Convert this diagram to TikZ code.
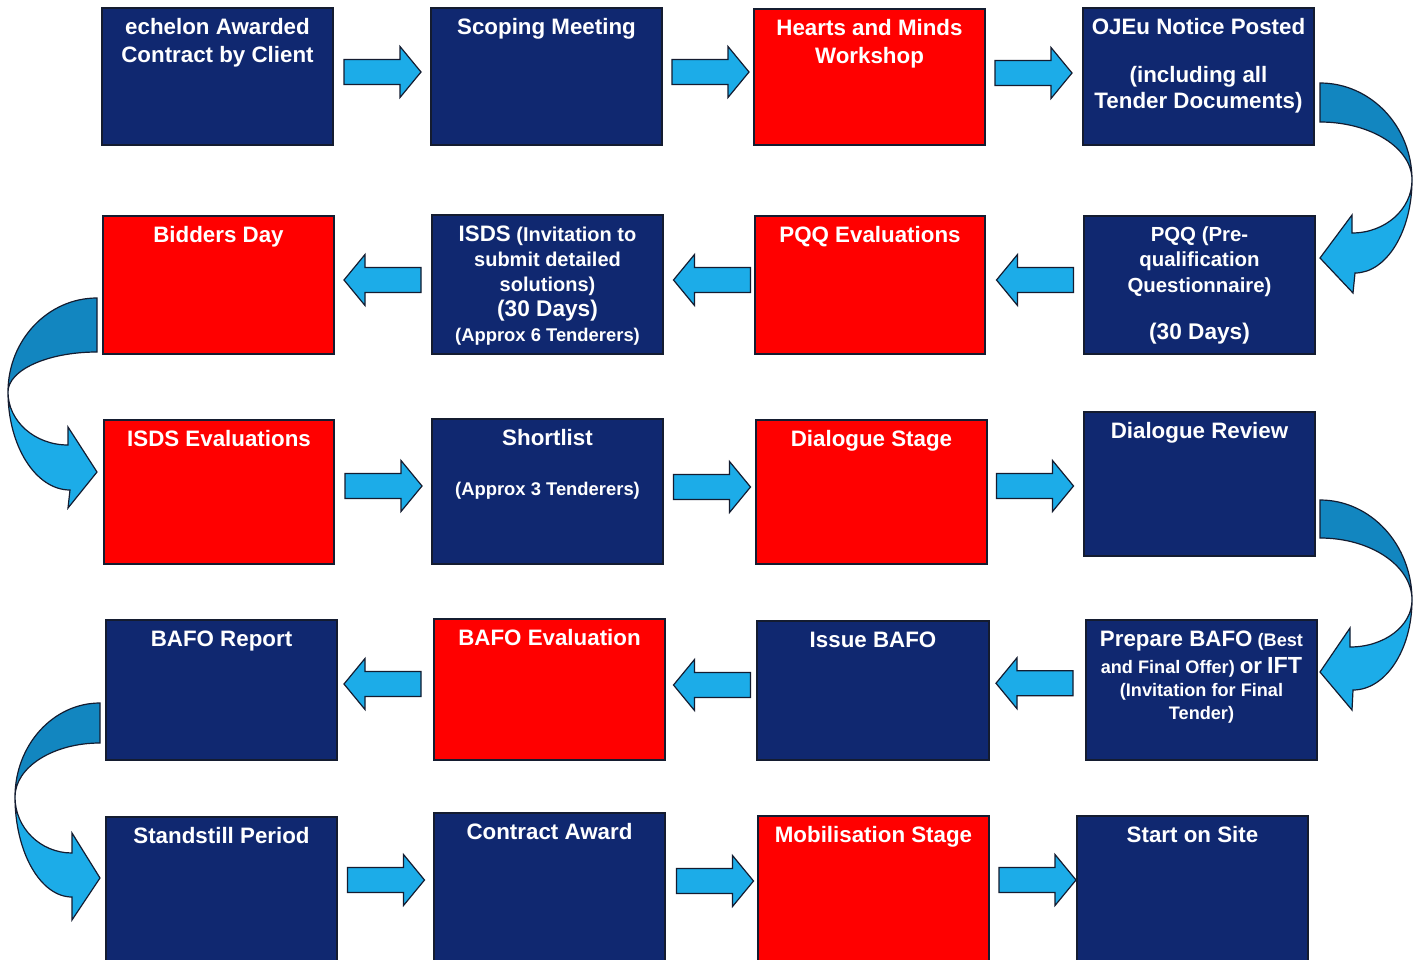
\documentclass[tikz,border=0pt]{standalone}
\usepackage{fontspec}
\setmainfont{Liberation Sans}
\usetikzlibrary{fit,calc}
\definecolor{navy}{RGB}{16,40,112}
\definecolor{boxred}{RGB}{255,0,0}
\definecolor{arrlight}{RGB}{28,172,232}
\definecolor{arrdark}{RGB}{18,134,192}
\definecolor{edge}{RGB}{20,28,48}
\newcommand\tsz[2]{{\fontsize{#1}{#1}\selectfont #2}}

\begin{document}
\begin{tikzpicture}[x=0.75pt,y=-0.75pt,
  stage/.style={inner sep=0pt, draw=edge, line width=0.8pt},
  navystage/.style={stage, fill=navy},
  redstage/.style={stage, fill=boxred},
  caption/.style={text=white, font=\bfseries\fontsize{16.75}{20.5}\selectfont,
    align=center, anchor=north, inner sep=0pt},
  blockarrow/.style={fill=arrlight, draw=edge, line width=0.9pt, line join=miter},
  curveback/.style={fill=arrdark, draw=edge, line width=0.9pt},
  curvefront/.style={fill=arrlight, draw=edge, line width=0.9pt, line join=miter},
  pics/rarr/.style={code={\draw[blockarrow] (-38.5,-12.5) -- (17.5,-12.5) -- (17.5,-25.5)
      -- (38.5,0) -- (17.5,25.5) -- (17.5,12.5) -- (-38.5,12.5) -- cycle;}},
  pics/larr/.style={code={\draw[blockarrow] (38.5,-12.5) -- (-17.5,-12.5) -- (-17.5,-25.5)
      -- (-38.5,0) -- (-17.5,25.5) -- (-17.5,12.5) -- (38.5,12.5) -- cycle;}},
]
\useasboundingbox (0,0) rectangle (1424,960);
\fill[white] (0,0) rectangle (1424,960);

% U-turn arrows between the rows (back half darker, front half lighter)
\draw[curveback] (1320,83) .. controls (1370.8,83) and (1412,126.4) .. (1412,180)
  .. controls (1412,148) and (1370.8,122) .. (1320,122) -- cycle;
\draw[curvefront] (1412,180) .. controls (1412,231.3) and (1386.5,273) .. (1355,273)
  -- (1353,293) -- (1320,258) -- (1352,215) -- (1352,233)
  .. controls (1385.1,233) and (1412,209.3) .. (1412,180) -- cycle;

\draw[curveback] (97,298) .. controls (47.9,298) and (8,340.1) .. (8,392)
  .. controls (8,369.9) and (47.9,352) .. (97,352) -- cycle;
\draw[curvefront] (8,392) .. controls (8,446.1) and (35.8,490) .. (70,490)
  -- (68,508) -- (97,472) -- (68,427) -- (68,445)
  .. controls (34.9,445) and (8,421.3) .. (8,392) -- cycle;

\draw[curveback] (1320,500) .. controls (1370.8,500) and (1412,544.8) .. (1412,600)
  .. controls (1412,565.8) and (1370.8,538) .. (1320,538) -- cycle;
\draw[curvefront] (1412,600) .. controls (1412,649.7) and (1385.6,690) .. (1353,690)
  -- (1352,710) -- (1320,672) -- (1350,628) -- (1350,647)
  .. controls (1384.2,647) and (1412,626) .. (1412,600) -- cycle;

\draw[curveback] (100,703) .. controls (53.1,703) and (15,745.1) .. (15,797)
  .. controls (15,767.2) and (53.1,743) .. (100,743) -- cycle;
\draw[curvefront] (15,797) .. controls (15,852.2) and (40.5,897) .. (72,897)
  -- (72,920) -- (100,878) -- (72,833) -- (72,853)
  .. controls (40.5,853) and (15,827.9) .. (15,797) -- cycle;

% Row 1
\node[navystage, fit={(102,8) (333,145)}] (b11) {};
\node[navystage, fit={(431,8) (662,145)}] (b12) {};
\node[redstage,  fit={(754,9) (985,145)}] (b13) {};
\node[navystage, fit={(1083,8) (1314,145)}] (b14) {};
% Row 2
\node[redstage,  fit={(103,216) (334,354)}] (b21) {};
\node[navystage, fit={(432,215) (663,354)}] (b22) {};
\node[redstage,  fit={(755,216) (985,354)}] (b23) {};
\node[navystage, fit={(1084,216) (1315,354)}] (b24) {};
% Row 3
\node[redstage,  fit={(104,420) (334,564)}] (b31) {};
\node[navystage, fit={(432,419) (663,564)}] (b32) {};
\node[redstage,  fit={(756,420) (987,564)}] (b33) {};
\node[navystage, fit={(1084,412) (1315,556)}] (b34) {};
% Row 4
\node[navystage, fit={(106,620) (337,760)}] (b41) {};
\node[redstage,  fit={(434,619) (665,760)}] (b42) {};
\node[navystage, fit={(757,621) (989,760)}] (b43) {};
\node[navystage, fit={(1086,620) (1317,760)}] (b44) {};
% Row 5
\node[navystage, fit={(106,817) (337,966)}] (b51) {};
\node[navystage, fit={(434,813) (665,966)}] (b52) {};
\node[redstage,  fit={(758,816) (989,966)}] (b53) {};
\node[navystage, fit={(1077,816) (1308,966)}] (b54) {};

% Captions
\node[caption] (t11) at ($(b11.north)+(0,11)$) {echelon Awarded\\Contract by Client};
\node[caption] (t12) at ($(b12.north)+(0,11)$) {Scoping Meeting};
\node[caption] (t13) at ($(b13.north)+(0,11)$) {Hearts and Minds\\Workshop};
\node[caption, font=\bfseries\fontsize{16.75}{19.5}\selectfont] (t14) at ($(b14.north)+(0,11)$)
  {OJEu Notice Posted\\[16.5pt](including all\\Tender Documents)};

\node[caption] (t21) at ($(b21.north)+(0,11)$) {Bidders Day};
\node[caption, font=\bfseries\fontsize{15}{18.75}\selectfont] (t22) at ($(b22.north)+(0,11)$)
  {\tsz{16.75}{ISDS} (Invitation to\\submit detailed\\solutions)\\\tsz{17}{(30 Days)}\\\tsz{13.8}{(Approx 6 Tenderers)}};
\node[caption] (t23) at ($(b23.north)+(0,11)$) {PQQ Evaluations};
\node[caption, font=\bfseries\fontsize{15.3}{19}\selectfont] (t24) at ($(b24.north)+(0,11)$)
  {PQQ (Pre-\\qualification\\Questionnaire)\\[16.25pt]\tsz{17}{(30 Days)}};

\node[caption] (t31) at ($(b31.north)+(0,11)$) {ISDS Evaluations};
\node[caption] (t32) at ($(b32.north)+(0,11)$) {Shortlist\\[16.6pt]\tsz{13.8}{(Approx 3 Tenderers)}};
\node[caption] (t33) at ($(b33.north)+(0,11)$) {Dialogue Stage};
\node[caption] (t34) at ($(b34.north)+(0,11)$) {Dialogue Review};

\node[caption] (t41) at ($(b41.north)+(0,11)$) {BAFO Report};
\node[caption] (t42) at ($(b42.north)+(0,11)$) {BAFO Evaluation};
\node[caption] (t43) at ($(b43.north)+(0,11)$) {Issue BAFO};
\node[caption, font=\bfseries\fontsize{13.6}{17.25}\selectfont] (t44) at ($(b44.north)+(0,11)$)
  {\tsz{16.75}{Prepare BAFO} (Best\\[3pt]and Final Offer) \tsz{16.75}{or} \tsz{17.5}{IFT}\\(Invitation for Final\\Tender)};

\node[caption] (t51) at ($(b51.north)+(0,11)$) {Standstill Period};
\node[caption] (t52) at ($(b52.north)+(0,11)$) {Contract Award};
\node[caption] (t53) at ($(b53.north)+(0,11)$) {Mobilisation Stage};
\node[caption] (t54) at ($(b54.north)+(0,11)$) {Start on Site};

% Block arrows between neighbouring stages
\path ($(b11.east)!.5!(b12.west)$) ++(0.5,-4.5) pic {rarr};
\path ($(b12.east)!.5!(b13.west)$) ++(2.5,-4.75) pic {rarr};
\path ($(b13.east)!.5!(b14.west)$) ++(-0.5,-3.75) pic {rarr};

\path ($(b21.east)!.5!(b22.west)$) ++(-0.5,-4.75) pic {larr};
\path ($(b22.east)!.5!(b23.west)$) ++(3,-4.75) pic {larr};
\path ($(b23.east)!.5!(b24.west)$) ++(0.5,-5) pic {larr};

\path ($(b31.east)!.5!(b32.west)$) ++(0.5,-5.75) pic {rarr};
\path ($(b32.east)!.5!(b33.west)$) ++(2.5,-4.75) pic {rarr};
\path ($(b33.east)!.5!(b34.west)$) ++(-0.5,-2) pic {rarr};

\path ($(b41.east)!.5!(b42.west)$) ++(-3,-5.75) pic {larr};
\path ($(b42.east)!.5!(b43.west)$) ++(1,-5) pic {larr};
\path ($(b43.east)!.5!(b44.west)$) ++(-3,-7) pic {larr};

\path ($(b51.east)!.5!(b52.west)$) ++(0.5,-10.5) pic {rarr};
\path ($(b52.east)!.5!(b53.west)$) ++(3.5,-9.25) pic {rarr};
\path ($(b53.east)!.5!(b54.west)$) ++(4.5,-11) pic {rarr};
\end{tikzpicture}
\end{document}
